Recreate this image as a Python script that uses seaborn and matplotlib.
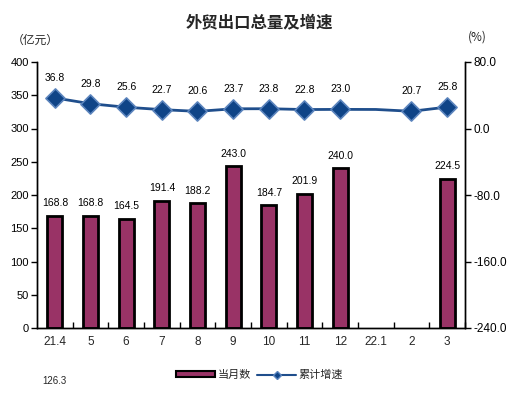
import matplotlib
matplotlib.use("Agg")
import matplotlib.pyplot as plt
import seaborn as sns
import numpy as np
import pandas as pd
from matplotlib.lines import Line2D
from matplotlib.patches import Patch

months = ["21.4", "5", "6", "7", "8", "9", "10", "11", "12", "22.1", "2", "3"]
monthly = [168.8, 168.8, 164.5, 191.4, 188.2, 243.0, 184.7, 201.9, 240.0, np.nan, np.nan, 224.5]
growth = [36.8, 29.8, 25.6, 22.7, 20.6, 23.7, 23.8, 22.8, 23.0, 22.9, 20.7, 25.8]
growth_labeled = [True, True, True, True, True, True, True, True, True, False, True, True]
stray_label = "126.3"

sns.set_theme(style="white")
plt.rcParams['font.family'] = ['Liberation Sans', 'Noto Sans CJK SC', 'DejaVu Sans']
cjk = ['Noto Sans CJK SC', 'DejaVu Sans']

fig = plt.figure(figsize=(5.19, 3.95), dpi=100)
ax = fig.add_axes([37/519, 1-328/395, (465-37)/519, (328-62)/395])

df = pd.DataFrame({"month": months, "value": monthly, "growth": growth, "x": np.arange(len(months))})

bar_color = "#993366"
sns.barplot(data=df, x="month", y="value", ax=ax, color=bar_color, width=0.42,
            edgecolor="black", linewidth=2, saturation=1)
ax.set_ylim(0, 400)
ax.set_xlim(-0.5, len(months) - 0.5)
ax.set_yticks(range(0, 401, 50))
ax.set_ylabel("")
ax.set_xlabel("")
for i, v in enumerate(monthly):
    if not np.isnan(v):
        ax.text(i, v + 11, f"{v:.1f}", ha="center", va="bottom", fontsize=7.5, color="black")

ax2 = ax.twinx()
line_color = "#1F4E8C"
sns.lineplot(data=df, x="x", y="growth", ax=ax2, color=line_color, linewidth=2, legend=False)
lab = df[growth_labeled]
sns.scatterplot(data=lab, x="x", y="growth", ax=ax2, marker="D", s=95, color="#0F4487",
                edgecolor="#5B84BD", linewidth=1.2, zorder=5, legend=False)
for x, g, show in zip(df["x"], growth, growth_labeled):
    if show:
        ax2.text(x, g + 18, f"{g:.1f}", ha="center", va="bottom", fontsize=7.5, color="black")
ax2.set_ylim(-240, 80)
ax2.set_yticks([-240, -160, -80, 0, 80])
ax2.set_yticklabels([f"{t:.1f}" for t in [-240, -160, -80, 0, 80]])
ax2.set_ylabel("")
ax2.set_xlabel("")
ax2.set_xlim(-0.5, len(months) - 0.5)

for a in (ax, ax2):
    a.spines["top"].set_visible(False)
    for s in ["left", "right", "bottom"]:
        a.spines[s].set_color("black")
        a.spines[s].set_linewidth(1)
    a.grid(False)

ax.tick_params(axis="y", direction="out", length=4, width=1, left=True, labelsize=8, pad=2, colors="black")
ax2.tick_params(axis="y", direction="out", length=4, width=1, right=True, labelsize=8.5, pad=2, colors="black")
ax.set_xticks(np.arange(len(months)))
ax.set_xticklabels(months, fontsize=8.5)
ax.set_xticks(np.arange(len(months)) + 0.5, minor=True)
ax.tick_params(axis="x", which="major", length=0, pad=6)
ax.tick_params(axis="x", which="minor", direction="in", length=4, width=1, bottom=True, colors="black")

fig.text(0.5, 1 - 22/395, "外贸出口总量及增速", ha="center", va="center", fontsize=11.8,
         fontweight="bold", family=cjk)
fig.text(12/519, 1 - 40/395, "（亿元）", ha="left", va="center", fontsize=8.5, family=cjk)
fig.text(468/519, 1 - 37/395, "(%)", ha="left", va="center", fontsize=8.5, family=cjk)
fig.text(42/519, 1 - 381/395, stray_label, ha="left", va="center", fontsize=7)

handles = [Patch(facecolor=bar_color, edgecolor="black", linewidth=1.5),
           Line2D([0], [0], color=line_color, linewidth=1.5, marker="D", markersize=4,
                  markerfacecolor="#0F4487", markeredgecolor="#5B84BD")]
fig.legend(handles, ["当月数", "累计增速"], loc="center", bbox_to_anchor=(0.5, 1 - 375/395),
           ncol=2, frameon=False, prop={"family": cjk, "size": 8}, handlelength=3.5,
           handleheight=0.5, columnspacing=0.6, handletextpad=0.2)

fig.savefig("out.png", dpi=100)
